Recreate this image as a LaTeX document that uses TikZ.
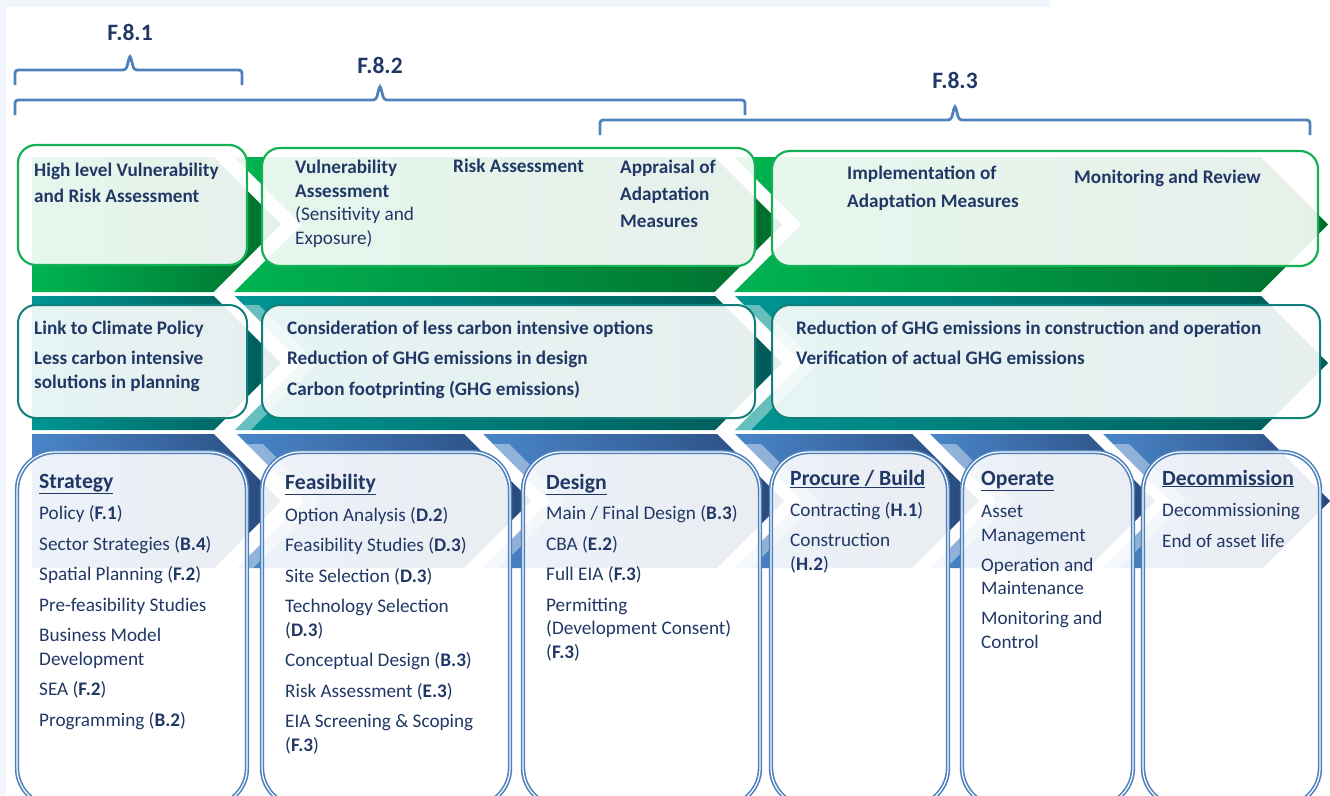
\documentclass[tikz,border=0pt]{standalone}
\usepackage{fontspec}
\setmainfont{Carlito}
\usetikzlibrary{positioning}
\definecolor{navy}{RGB}{33,56,102}
\definecolor{brc}{RGB}{79,129,189}
\definecolor{bgc}{RGB}{240,245,252}
\definecolor{grnL}{RGB}{0,180,82}
\definecolor{grnD}{RGB}{0,110,46}
\definecolor{grnE}{RGB}{20,178,84}
\definecolor{tealL}{RGB}{0,150,148}
\definecolor{tealD}{RGB}{0,90,86}
\definecolor{tealE}{RGB}{18,128,122}
\definecolor{bluL}{RGB}{74,134,202}
\definecolor{bluD}{RGB}{40,72,122}
\definecolor{bluE}{RGB}{79,129,189}

\begin{document}
\begin{tikzpicture}[x=1pt, y=-1pt,
brace/.style={draw=brc, line width=2.8pt, rounded corners=3pt},
lvl/.style={text=navy, inner sep=0pt, font=\fontsize{23.5}{26}\selectfont\bfseries},
txt/.style={anchor=base west, inner sep=0pt, align=left, text=navy},
bold/.style={txt, font=\fontsize{19.2}{23.5}\selectfont\bfseries},
itm/.style={txt, font=\fontsize{19.2}{23.5}\selectfont},
head/.style={txt, font=\fontsize{21.7}{25}\selectfont\bfseries},
gbox/.style={draw=grnE, line width=2.2pt, fill=white, fill opacity=.9, rounded corners=18pt},
tbox/.style={draw=tealE, line width=2pt, fill=white, fill opacity=.9, rounded corners=18pt},
bbox/.style={draw=bluE, line width=1.6pt, double=white, double distance=1.2pt,
	fill=white, fill opacity=.9, rounded corners=38pt},
pale/.style={fill=white, fill opacity=.4}
]
\useasboundingbox (0,0) rectangle (1330,795);
\clip (0,0) rectangle (1330,795);
\fill[bgc] (0,0) rectangle (1050,7);
\fill[bgc] (0,0) rectangle (6,795);

% phase braces
\node[lvl] (f81) at (130,32) {F.8.1};
\node[lvl] (f82) at (380,65) {F.8.2};
\node[lvl] (f83) at (955,80) {F.8.3};
\foreach \xa/\xb/\xm/\yy in {15/242/130/70, 15/745/380/100, 600/1310/955/120}
{
	\draw[brace] (\xa,{\yy+15}) -- (\xa,\yy) -- ({\xm-4},\yy) -- (\xm,{\yy-15})
		-- ({\xm+4},\yy) -- (\xb,\yy) -- (\xb,{\yy+15});
}

% chevron bands
\foreach \a/\n/\b in {32/0/281, 234/67.5/782, 734/67.5/1328}
	\shade[left color=grnL, right color=grnD] (\a,157) -- ({\b-67.5},157) -- (\b,224.5)
		-- ({\b-67.5},292) -- (\a,292) -- ({\a+\n},224.5) -- cycle;
\foreach \a/\n/\b in {32/0/281, 235/67/782, 735/67/1328}
	\shade[left color=tealL, right color=tealD] (\a,296) -- ({\b-67},296) -- (\b,363)
		-- ({\b-67},430) -- (\a,430) -- ({\a+\n},363) -- cycle;
\foreach \a/\n/\b in {32/0/281, 237/67/531, 483/67/784, 735/67/979, 930/67/1155, 1103/67/1330}
	\shade[left color=bluL, right color=bluD] (\a,434) -- ({\b-67},434) -- (\b,501)
		-- ({\b-67},568) -- (\a,568) -- ({\a+\n},501) -- cycle;
\foreach \a in {235, 735}
	\fill[pale] ({\a+8},305) -- ({\a+24},305) -- ({\a+82},363) -- ({\a+16},430)
		-- (\a,430) -- ({\a+67},363) -- cycle;
\foreach \a in {237, 483, 735, 930, 1103}
	\fill[pale] ({\a+10},444) -- ({\a+26},444) -- ({\a+83},501) -- ({\a+16},568)
		-- (\a,568) -- ({\a+67},501) -- cycle;

% boxes
\draw[gbox] (18,145) rectangle (247,265);
\draw[gbox] (262,148) rectangle (755,266);
\draw[gbox] (772,151) rectangle (1318,266);
\draw[tbox] (18,305) rectangle (247,418);
\draw[tbox] (262,305) rectangle (755,418);
\draw[tbox] (772,305) rectangle (1320,418);
\foreach \xa/\xb in {17/247, 262/510, 523/760, 771/948, 962/1133, 1143/1320}
	\draw[bbox] (\xa,452) rectangle (\xb,806);

% adaptation row
\node[bold] (t1) at (34,202) {High level Vulnerability\\[2.5pt]and Risk Assessment};
\node[bold] (t2) at (295,244) {Vulnerability\\Assessment\\{\mdseries (Sensitivity and}\\{\mdseries Exposure)}};
\node[bold] (t3) at (453,172) {Risk Assessment};
\node[bold] (t4) at (620,227) {Appraisal of\\[3.5pt]Adaptation\\[3.5pt]Measures};
\node[bold] (t5) at (847,207) {Implementation of\\[4.5pt]Adaptation Measures};
\node[bold] (t6) at (1074,183) {Monitoring and Review};

% mitigation row
\node[bold] (u1) at (34,388) {Link to Climate Policy\\[6.5pt]Less carbon intensive\\[0.5pt]solutions in planning};
\node[bold] (u2) at (287,395) {Consideration of less carbon intensive options\\[7pt]Reduction of GHG emissions in design\\[7pt]Carbon footprinting (GHG emissions)};
\node[bold] (u3) at (796,364) {Reduction of GHG emissions in construction and operation\\[6.5pt]Verification of actual GHG emissions};

% project cycle
\node[head] (h1) at (39,488) {\underline{Strategy}};
\node[head] (h2) at (285,489) {\underline{Feasibility}};
\node[head] (h3) at (546,489) {\underline{Design}};
\node[head] (h4) at (790,485) {\underline{Procure / Build}};
\node[head] (h5) at (981,485) {\underline{Operate}};
\node[head] (h6) at (1162,485) {\underline{Decommission}};
\node[itm] (s1) at (39,726) {Policy (\textbf{F.1})\\[7pt]Sector Strategies (\textbf{B.4})\\[7pt]Spatial Planning (\textbf{F.2})\\[7pt]Pre-feasibility Studies\\[7pt]Business Model\\Development\\[7pt]SEA (\textbf{F.2})\\[7pt]Programming (\textbf{B.2})};
\node[itm] (s2) at (285,751) {Option Analysis (\textbf{D.2})\\[7pt]Feasibility Studies (\textbf{D.3})\\[7pt]Site Selection (\textbf{D.3})\\[7pt]Technology Selection\\(\textbf{D.3})\\[7pt]Conceptual Design (\textbf{B.3})\\[7pt]Risk Assessment (\textbf{E.3})\\[7pt]EIA Screening \& Scoping\\(\textbf{F.3})};
\node[itm] (s3) at (546,658) {Main / Final Design (\textbf{B.3})\\[7pt]CBA (\textbf{E.2})\\[7pt]Full EIA (\textbf{F.3})\\[7pt]Permitting\\(Development Consent)\\(\textbf{F.3})};
\node[itm] (s4) at (790,570) {Contracting (\textbf{H.1})\\[7pt]Construction\\(\textbf{H.2})};
\node[itm] (s5) at (981,648) {Asset\\Management\\[6.5pt]Operation and\\Maintenance\\[6.5pt]Monitoring and\\Control};
\node[itm] (s6) at (1162,547) {Decommissioning\\[7pt]End of asset life};
\end{tikzpicture}
\end{document}
